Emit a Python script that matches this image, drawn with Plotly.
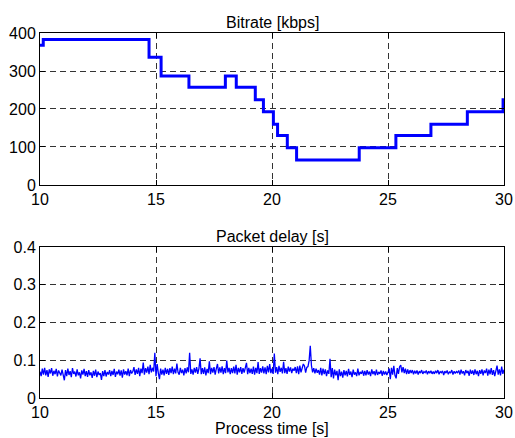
import plotly.graph_objects as go
from plotly.subplots import make_subplots

# Bitrate step function (change times and levels)
bitrate_times = [10.0, 10.14, 14.70, 15.22, 16.42, 17.99, 18.46, 19.28, 19.63, 20.06,
                 20.24, 20.66, 21.06, 23.76, 25.34, 26.85, 28.42, 29.96, 30.0]
bitrate_kbps = [368, 383, 336, 287, 257, 287, 257, 224, 193, 160,
                130, 98, 66, 98, 130, 160, 193, 224, 224]

# Packet delay samples, one row per second (0.05 s spacing)
delay_10 = [0.070,0.058,0.078,0.062,0.080,0.060,0.074,0.056,0.076,0.065,0.079,0.059,0.072,0.063,0.077,0.057,0.073,0.066,0.060,0.075]
delay_11 = [0.062,0.047,0.074,0.058,0.078,0.061,0.071,0.055,0.079,0.064,0.070,0.057,0.076,0.060,0.068,0.052,0.073,0.062,0.077,0.058]
delay_12 = [0.071,0.056,0.074,0.060,0.068,0.053,0.072,0.059,0.075,0.055,0.070,0.061,0.066,0.048,0.071,0.058,0.074,0.057,0.069,0.062]
delay_13 = [0.074,0.058,0.072,0.061,0.077,0.056,0.070,0.063,0.075,0.059,0.073,0.054,0.076,0.062,0.071,0.060,0.078,0.058,0.074,0.065]
delay_14 = [0.070,0.082,0.061,0.076,0.064,0.080,0.058,0.078,0.066,0.094,0.062,0.079,0.067,0.083,0.063,0.088,0.068,0.080,0.070,0.120]
delay_15 = [0.058,0.090,0.066,0.050,0.078,0.062,0.075,0.060,0.080,0.064,0.077,0.061,0.079,0.066,0.083,0.063,0.078,0.065,0.091,0.068]
delay_16 = [0.062,0.080,0.066,0.075,0.060,0.079,0.065,0.081,0.068,0.120,0.064,0.076,0.062,0.080,0.067,0.082,0.064,0.078,0.105,0.063]
delay_17 = [0.079,0.064,0.081,0.060,0.077,0.066,0.097,0.063,0.080,0.067,0.082,0.062,0.078,0.090,0.065,0.081,0.067,0.084,0.063,0.079]
delay_18 = [0.066,0.099,0.068,0.080,0.063,0.079,0.066,0.083,0.065,0.088,0.062,0.080,0.068,0.082,0.064,0.079,0.067,0.084,0.093,0.063]
delay_19 = [0.080,0.066,0.078,0.064,0.083,0.062,0.080,0.066,0.095,0.064,0.079,0.067,0.084,0.065,0.081,0.063,0.085,0.068,0.090,0.066]
delay_20 = [0.078,0.064,0.118,0.067,0.082,0.063,0.085,0.069,0.080,0.065,0.096,0.066,0.079,0.064,0.083,0.070,0.081,0.066,0.078,0.072]
delay_21 = [0.082,0.066,0.084,0.063,0.086,0.068,0.080,0.090,0.085,0.067,0.081,0.083,0.099,0.138,0.086,0.068,0.079,0.065,0.078,0.067]
delay_22 = [0.074,0.062,0.080,0.060,0.078,0.063,0.076,0.058,0.073,0.064,0.104,0.055,0.079,0.052,0.075,0.060,0.072,0.047,0.076,0.058]
delay_23 = [0.070,0.054,0.074,0.060,0.072,0.057,0.077,0.061,0.070,0.055,0.075,0.062,0.068,0.058,0.078,0.060,0.069,0.064,0.073,0.059]
delay_24 = [0.072,0.060,0.074,0.062,0.070,0.058,0.076,0.063,0.071,0.060,0.075,0.061,0.069,0.064,0.073,0.059,0.072,0.062,0.070,0.061]
delay_25 = [0.068,0.078,0.050,0.080,0.062,0.085,0.060,0.052,0.079,0.064,0.083,0.087,0.068,0.082,0.066,0.078,0.063,0.076,0.064,0.074]
delay_26 = [0.066,0.074,0.063,0.072,0.065,0.073,0.062,0.071,0.066,0.074,0.064,0.070,0.067,0.073,0.063,0.071,0.066,0.072,0.064,0.070]
delay_27 = [0.064,0.072,0.066,0.074,0.063,0.070,0.067,0.072,0.061,0.071,0.066,0.073,0.063,0.069,0.067,0.074,0.062,0.071,0.065,0.070]
delay_28 = [0.067,0.073,0.062,0.075,0.065,0.071,0.060,0.074,0.066,0.072,0.059,0.075,0.064,0.073,0.061,0.076,0.063,0.072,0.058,0.074]
delay_29 = [0.064,0.076,0.060,0.073,0.066,0.078,0.059,0.075,0.063,0.079,0.061,0.074,0.058,0.077,0.086,0.062,0.076,0.060,0.083,0.064]
delay_30 = [0.075]

delay_s = (delay_10 + delay_11 + delay_12 + delay_13 + delay_14 + delay_15 + delay_16 +
           delay_17 + delay_18 + delay_19 + delay_20 + delay_21 + delay_22 + delay_23 +
           delay_24 + delay_25 + delay_26 + delay_27 + delay_28 + delay_29 + delay_30)
delay_times = [10 + 0.05 * i for i in range(len(delay_s))]

x_ticks = [10, 15, 20, 25, 30]
bitrate_ticks = [0, 100, 200, 300, 400]
delay_ticks = [0, 0.1, 0.2, 0.3, 0.4]
delay_tick_labels = ["0", "0.1", "0.2", "0.3", "0.4"]

FONT = "Liberation Sans, Arial, sans-serif"

fig = make_subplots(rows=2, cols=1, vertical_spacing=0.17)

fig.add_trace(go.Scatter(x=bitrate_times, y=bitrate_kbps, mode="lines", line_shape="hv",
                         line=dict(color="#0000ff", width=3), showlegend=False), row=1, col=1)
fig.add_trace(go.Scatter(x=delay_times, y=delay_s, mode="lines",
                         line=dict(color="#0000ff", width=1.3), showlegend=False), row=2, col=1)

axis_common = dict(showline=True, linecolor="black", linewidth=1, mirror="ticks",
                   ticks="inside", ticklen=5, tickcolor="black", automargin=False,
                   showgrid=True, gridcolor="#333333", gridwidth=1, griddash="6px,4px",
                   zeroline=False, tickfont=dict(family=FONT, size=16, color="black"))

fig.update_xaxes(range=[10, 30], tickvals=x_ticks, **axis_common)
fig.update_yaxes(**axis_common)
fig.update_yaxes(range=[0, 400], tickvals=bitrate_ticks, row=1, col=1)
fig.update_yaxes(range=[0, 0.4], tickvals=delay_ticks, ticktext=delay_tick_labels, row=2, col=1)

fig.update_layout(
    width=515, height=438,
    margin=dict(l=40, r=11, t=33, b=40, autoexpand=False),
    paper_bgcolor="white", plot_bgcolor="white",
    font=dict(family=FONT, size=16, color="black"),
    xaxis=dict(domain=[0, 1]), yaxis=dict(domain=[0.5836, 1.0]),
    xaxis2=dict(domain=[0, 1]), yaxis2=dict(domain=[0.0, 0.4137]),
    annotations=[
        dict(text="Bitrate [kbps]", x=0.5, xref="paper", y=1.0, yref="paper",
             yanchor="bottom", yshift=0, showarrow=False, font=dict(family=FONT, size=16)),
        dict(text="Packet delay [s]", x=0.5, xref="paper", y=0.4137, yref="paper",
             yanchor="bottom", yshift=0, showarrow=False, font=dict(family=FONT, size=16)),
        dict(text="Process time [s]", x=0.5, xref="paper", y=0, yref="paper",
             yanchor="top", yshift=-20, showarrow=False, font=dict(family=FONT, size=16)),
    ],
)

fig.write_html("out.html", config={"displayModeBar": False},
               post_script="document.body.style.margin='0';document.body.style.overflow='hidden';")
